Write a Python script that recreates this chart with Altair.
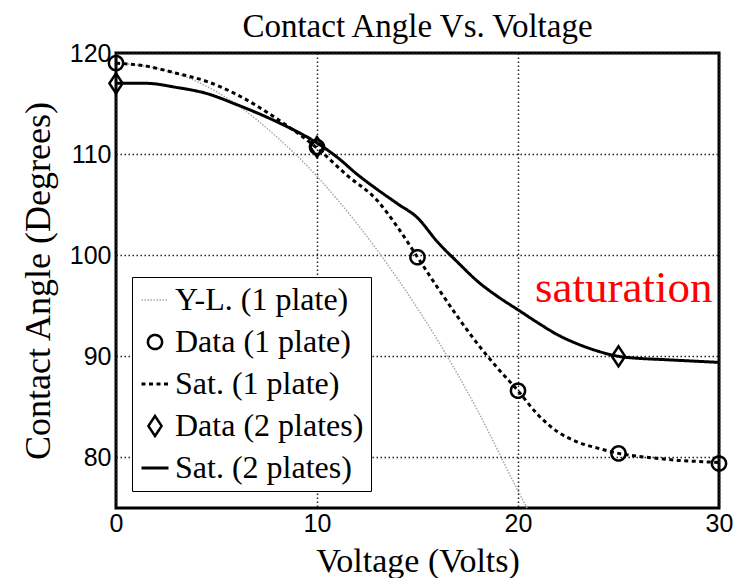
import altair as alt
import pandas as pd

# ---- values ----
series_names = ["Y-L. (1 plate)", "Data (1 plate)", "Sat. (1 plate)", "Data (2 plates)", "Sat. (2 plates)"]

yl_v = [0, 2, 4, 6, 8, 10, 12, 14, 16, 18, 20, 20.45]
yl_a = [119.0, 118.5, 117.2, 114.9, 111.7, 107.8, 103.1, 97.7, 91.6, 84.6, 76.7, 75.0]

sat1_v = [0, 1.5, 3, 4.5, 6, 8, 10, 11.5, 13, 14, 15, 16, 17, 18, 19, 20, 21, 22, 23, 24, 25, 26, 27, 28, 29, 30]
sat1_a = [119.0, 118.7, 118.0, 117.2, 115.9, 113.5, 110.6, 107.9, 105.4, 102.8, 99.8, 96.8, 93.9, 91.2, 88.8,
          86.6, 84.2, 82.5, 81.5, 80.9, 80.4, 80.1, 79.9, 79.7, 79.6, 79.5]

sat2_v = [0, 1.5, 3, 4.5, 6, 8, 10, 11, 12, 13, 14, 15, 16, 17, 18, 19, 20, 21, 22, 23, 24, 25, 26, 27, 28, 29, 30]
sat2_a = [117.0, 117.0, 116.6, 116.0, 114.9, 113.2, 111.1, 109.7, 108.0, 106.5, 105.1, 103.7, 101.3, 99.3, 97.4,
          95.9, 94.6, 93.3, 92.1, 91.2, 90.5, 90.0, 89.8, 89.7, 89.6, 89.5, 89.4]

d1_v = [0, 10, 15, 20, 25, 30]
d1_a = [119.0, 110.7, 99.8, 86.6, 80.4, 79.4]

d2_v = [0, 10, 25]
d2_a = [117.0, 110.7, 90.0]

x_ticks = [0, 10, 20, 30]
y_ticks = [80, 90, 100, 110, 120]

note_text = ["saturation"]
note_v = [20.85]
note_a = [95.4]

SERIF = "Liberation Serif, Times New Roman, serif"
SANS = "Liberation Sans, Arial, sans-serif"

# ---- tables ----
def frame(v, a, name):
    return pd.DataFrame({"V": v, "angle": a, "series": name})

lines_df = pd.concat([frame(yl_v, yl_a, series_names[0]),
                      frame(sat1_v, sat1_a, series_names[2]),
                      frame(sat2_v, sat2_a, series_names[4])], ignore_index=True)
pts_df = pd.concat([frame(d1_v, d1_a, series_names[1]),
                    frame(d2_v, d2_a, series_names[3])], ignore_index=True)
note_df = pd.DataFrame({"V": note_v, "angle": note_a, "label": note_text})

diamond = "M0,-1L0.66,0L0,1L-0.66,0Z"

leg = alt.Legend(title=None, orient="none", legendX=16, legendY=224,
                 strokeColor="black", fillColor="white", padding=7, rowPadding=10,
                 labelFont=SERIF, labelFontSize=32, labelColor="black",
                 labelOffset=4, labelLimit=400)

color = alt.Color("series:N", legend=leg,
                  scale=alt.Scale(domain=series_names,
                                  range=["#a8a8a8", "black", "black", "black", "black"]))
dash = alt.StrokeDash("series:N", legend=leg,
                      scale=alt.Scale(domain=series_names,
                                      range=[[1.5, 1.5], [1, 0], [4, 3.5], [1, 0], [1, 0]]))
swidth = alt.StrokeWidth("series:N", legend=leg,
                         scale=alt.Scale(type="ordinal", domain=series_names,
                                         range=[1.5, 2.5, 3, 2.5, 3]))
shape = alt.Shape("series:N", legend=leg,
                  scale=alt.Scale(domain=series_names,
                                  range=["stroke", "circle", "stroke", diamond, "stroke"]))
size = alt.Size("series:N", legend=leg,
                scale=alt.Scale(type="ordinal", domain=series_names,
                                range=[729, 200, 729, 400, 729]))

xenc = alt.X("V:Q", title="Voltage (Volts)",
             scale=alt.Scale(domain=[0, 30], nice=False),
             axis=alt.Axis(values=x_ticks, format="d"))
yenc = alt.Y("angle:Q", title="Contact Angle (Degrees)",
             scale=alt.Scale(domain=[75, 120], nice=False, zero=False),
             axis=alt.Axis(values=y_ticks, format="d"))

lines = alt.Chart(lines_df).mark_line(interpolate="monotone").encode(
    x=xenc, y=yenc, color=color, strokeDash=dash, strokeWidth=swidth,
    detail="series:N"
)

points = alt.Chart(pts_df).mark_point(filled=False, opacity=1).encode(
    x=xenc, y=yenc, color=color, strokeDash=dash, strokeWidth=swidth,
    shape=shape, size=size
)

note = alt.Chart(note_df).mark_text(align="left", baseline="alphabetic",
                                    font=SERIF, fontSize=45, color="#ff0000").encode(
    x="V:Q", y="angle:Q", text="label:N"
)

chart = alt.layer(lines, points, note).properties(
    width=603, height=455,
    title=alt.Title("Contact Angle Vs. Voltage", font=SERIF, fontSize=33,
                    fontWeight="normal", color="black", offset=-3, anchor="middle"),
    autosize=alt.AutoSizeParams(type="none"),
    padding={"left": 108, "top": 45, "right": 20, "bottom": 70},
).configure_view(
    stroke="black", strokeWidth=3
).configure_axis(
    labelFont=SANS, labelFontSize=25, labelColor="black",
    titleFont=SERIF, titleFontSize=34, titleFontWeight="normal", titleColor="black",
    grid=True, gridColor="#222222", gridDash=[1.5, 2.5], gridWidth=1.5, gridOpacity=1,
    ticks=False, domain=False, labelFlush=False
).configure_axisX(
    labelPadding=3, titlePadding=8
).configure_axisY(
    labelPadding=5, titlePadding=12, titleFontSize=36
)

chart.save("out.html", embed_options={"renderer": "svg", "actions": False})
